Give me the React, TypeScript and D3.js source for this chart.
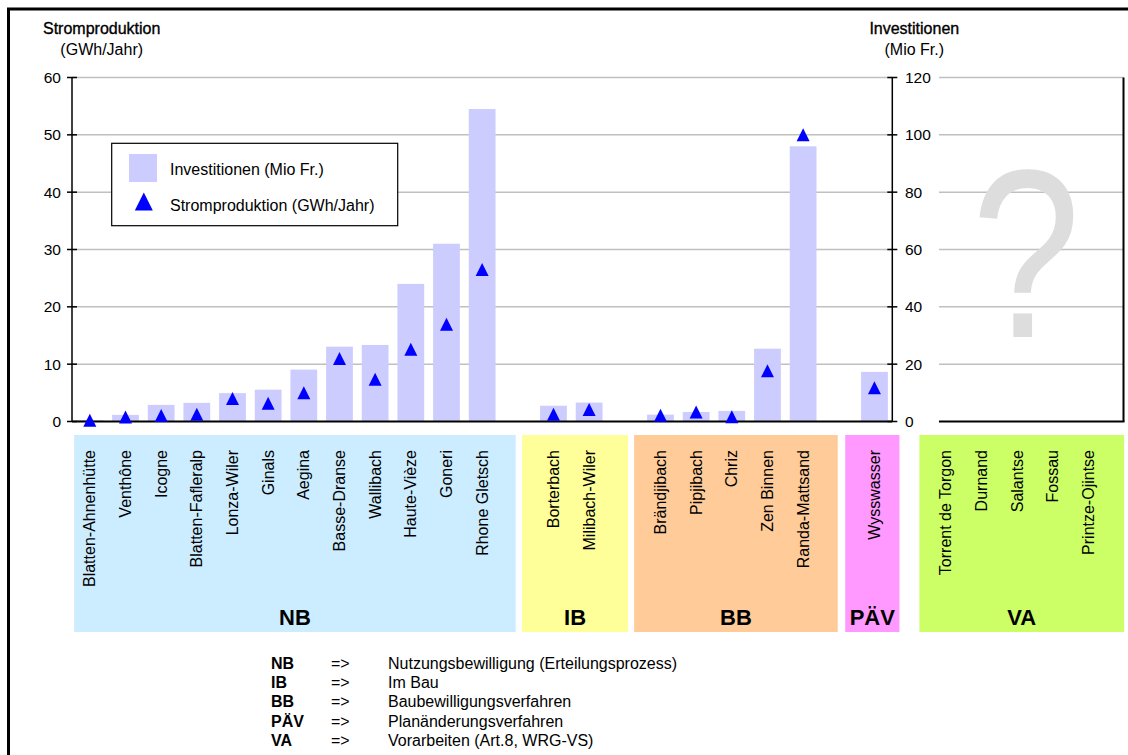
import React from 'react';
import * as d3 from 'd3';

// ---- data ----
const nbNames = ['Blatten-Ahnenhütte', 'Venthône', 'Icogne', 'Blatten-Fafleralp', 'Lonza-Wiler', 'Ginals', 'Aegina', 'Basse-Dranse', 'Wallibach', 'Haute-Vièze', 'Goneri', 'Rhone Gletsch'];
const nbInvest = [0.5, 2.3, 5.8, 6.5, 9.9, 11.1, 18.1, 26.1, 26.7, 48, 62, 109];
const nbStrom = [0.2, 0.8, 1.05, 1.25, 4.0, 3.2, 5.0, 11.0, 7.35, 12.6, 16.95, 26.5];

const ibNames = ['Borterbach', 'Milibach-Wiler'];
const ibInvest = [5.5, 6.6];
const ibStrom = [1.25, 2.1];

const bbNames = ['Brändjibach', 'Pipjibach', 'Chriz', 'Zen Binnen', 'Randa-Mattsand'];
const bbInvest = [2.4, 3.3, 3.7, 25.4, 96];
const bbStrom = [1.1, 1.65, 0.85, 8.85, 50];

const paevNames = ['Wysswasser'];
const paevInvest = [17.3];
const paevStrom = [5.9];

const vaNames = ['Torrent de Torgon', 'Durnand', 'Salantse', 'Fossau', 'Printze-Ojintse'];

const leftTicks = [0, 10, 20, 30, 40, 50, 60];
const rightTicks = [0, 20, 40, 60, 80, 100, 120];

const glossCodes = ['NB', 'IB', 'BB', 'PÄV', 'VA'];
const glossTexts = [
  'Nutzungsbewilligung (Erteilungsprozess)',
  'Im Bau',
  'Baubewilligungsverfahren',
  'Planänderungsverfahren',
  'Vorarbeiten (Art.8, WRG-VS)',
];

// groups table built from the arrays above
const groups = [
  { code: 'NB', names: nbNames, invest: nbInvest, strom: nbStrom, color: '#CCECFF', box: [0.06, 12.44] },
  { code: 'IB', names: ibNames, invest: ibInvest, strom: ibStrom, color: '#FFFF99', box: [12.62, 15.59] },
  { code: 'BB', names: bbNames, invest: bbInvest, strom: bbStrom, color: '#FFCC99', box: [15.76, 21.47] },
  { code: 'PÄV', names: paevNames, invest: paevInvest, strom: paevStrom, color: '#FF99FF', box: [21.68, 23.2] },
  { code: 'VA', names: vaNames, invest: [] as number[], strom: [] as number[], color: '#CCFF66', box: [23.76, 29.5] },
];

const FONT = '"Liberation Sans", Arial, Helvetica, sans-serif';

export default function App() {
  const W = 1128;
  const H = 755;
  const x = d3.scaleLinear().domain([0, 23]).range([72, 892.3]);
  const yL = d3.scaleLinear().domain([0, 60]).range([421.5, 77.5]);
  const yR = d3.scaleLinear().domain([0, 120]).range([421.5, 77.5]);
  const xMain0 = x(0);
  const xMain1 = x(23);
  const vaX0 = 939;
  const vaX1 = 1123.5;

  // assign slot indices with one empty slot between groups
  let slot = 0;
  const items: { name: string; slot: number; invest?: number; strom?: number; g: number }[] = [];
  groups.forEach((g, gi) => {
    g.names.forEach((n, i) => {
      items.push({ name: n, slot, invest: g.invest[i], strom: g.strom[i], g: gi });
      slot += 1;
    });
    slot += 1;
  });

  const barW = (x(1) - x(0)) * 0.75;
  const tri = (cx: number, cy: number, h: number) =>
    `M${cx},${cy - h}L${cx + h},${cy + h}L${cx - h},${cy + h}Z`;

  const boxTop = 435;
  const boxBot = 632;

  return (
    <svg
      width={W}
      height={H}
      style={{ position: 'absolute', left: 0, top: 0, background: '#fff' }}
      fontFamily={FONT}
    >
      <rect x={0} y={0} width={W} height={H} fill="#fff" />
      {/* outer frame */}
      <rect x={8.5} y={9} width={1400} height={1000} fill="none" stroke="#000" strokeWidth={3} />

      {/* axis titles */}
      <text x={101.7} y={34.3} textAnchor="middle" fontSize={16} stroke="#000" strokeWidth={0.35}>Stromproduktion</text>
      <text x={101.7} y={54.8} textAnchor="middle" fontSize={16}>(GWh/Jahr)</text>
      <text x={914.3} y={34.3} textAnchor="middle" fontSize={16} stroke="#000" strokeWidth={0.35}>Investitionen</text>
      <text x={914.3} y={54.8} textAnchor="middle" fontSize={16}>(Mio Fr.)</text>

      {/* gridlines */}
      {leftTicks.filter((t) => t > 0).map((t) => (
        <g key={'g' + t}>
          <line x1={xMain0} x2={xMain1} y1={yL(t)} y2={yL(t)} stroke="#C0C0C0" strokeWidth={1.5} />
          <line x1={vaX0} x2={vaX1} y1={yL(t)} y2={yL(t)} stroke="#C0C0C0" strokeWidth={1.5} />
        </g>
      ))}

      {/* question mark */}
      <text
        transform="translate(1026,336.7) scale(0.82,1)"
        textAnchor="middle"
        fontSize={239}
        fill="#DDDDDD"
      >
        ?
      </text>

      {/* bars */}
      {items.filter((d) => d.invest !== undefined).map((d) => (
        <rect
          key={'b' + d.name}
          x={x(d.slot + 0.5) - barW / 2}
          y={yR(d.invest as number)}
          width={barW}
          height={yR(0) - yR(d.invest as number)}
          fill="#CCCCFF"
        />
      ))}

      {/* baselines and axes */}
      <line x1={xMain0} x2={xMain1} y1={yL(0)} y2={yL(0)} stroke="#000" strokeWidth={2} />
      <line x1={vaX0} x2={vaX1 + 1} y1={yL(0)} y2={yL(0)} stroke="#000" strokeWidth={2} />
      <line x1={vaX1} x2={vaX1} y1={yL(60)} y2={yL(0)} stroke="#000" strokeWidth={2} />
      <line x1={xMain0} x2={xMain0} y1={yL(60)} y2={yL(0)} stroke="#000" strokeWidth={1.5} />
      <line x1={xMain1} x2={xMain1} y1={yR(120)} y2={yR(0)} stroke="#000" strokeWidth={1.5} />
      {leftTicks.map((t) => (
        <g key={'lt' + t}>
          <line x1={xMain0 - 5} x2={xMain0 + 5} y1={yL(t)} y2={yL(t)} stroke="#000" strokeWidth={1.5} />
          <text x={61} y={yL(t)} dy="0.35em" textAnchor="end" fontSize={15.5}>{t}</text>
        </g>
      ))}
      {rightTicks.map((t) => (
        <g key={'rt' + t}>
          <line x1={xMain1 - 5} x2={xMain1 + 5} y1={yR(t)} y2={yR(t)} stroke="#000" strokeWidth={1.5} />
          <text x={905} y={yR(t)} dy="0.35em" textAnchor="start" fontSize={15.5}>{t}</text>
        </g>
      ))}

      {/* triangles */}
      {items.filter((d) => d.strom !== undefined).map((d) => (
        <path key={'t' + d.name} d={tri(x(d.slot + 0.5), yL(d.strom as number), 6.5)} fill="#0000FF" />
      ))}

      {/* legend */}
      <rect x={111.7} y={143.3} width={286} height={82.4} fill="#fff" stroke="#000" strokeWidth={1.2} />
      <rect x={129} y={154} width={28} height={28} fill="#CCCCFF" />
      <text x={170} y={169} dy="0.35em" fontSize={16}>Investitionen (Mio Fr.)</text>
      <path d={tri(143.8, 201.5, 9)} fill="#0000FF" />
      <text x={170} y={205.7} dy="0.35em" fontSize={16}>Stromproduktion (GWh/Jahr)</text>

      {/* group boxes */}
      {groups.map((g) => (
        <g key={'box' + g.code}>
          <rect x={x(g.box[0])} y={boxTop} width={x(g.box[1]) - x(g.box[0])} height={boxBot - boxTop} fill={g.color} />
          <text
            x={(x(g.box[0]) + x(g.box[1])) / 2}
            y={625}
            textAnchor="middle"
            fontSize={22}
            fontWeight="bold"
          >
            {g.code}
          </text>
        </g>
      ))}

      {/* category labels */}
      {items.map((d) => {
        const cx = x(d.slot + 0.5);
        return (
          <text
            key={'l' + d.name}
            transform={`translate(${cx},450) rotate(-90)`}
            dy="0.35em"
            textAnchor="end"
            fontSize={16}
          >
            {d.name}
          </text>
        );
      })}

      {/* glossary */}
      {glossCodes.map((c, i) => {
        const yy = 663 + i * 19.3;
        return (
          <g key={'gl' + c}>
            <text x={271} y={yy} dy="0.35em" fontSize={16} fontWeight="bold">{c}</text>
            <text x={331} y={yy} dy="0.35em" fontSize={16}>=&gt;</text>
            <text x={388} y={yy} dy="0.35em" fontSize={16}>{glossTexts[i]}</text>
          </g>
        );
      })}
    </svg>
  );
}
